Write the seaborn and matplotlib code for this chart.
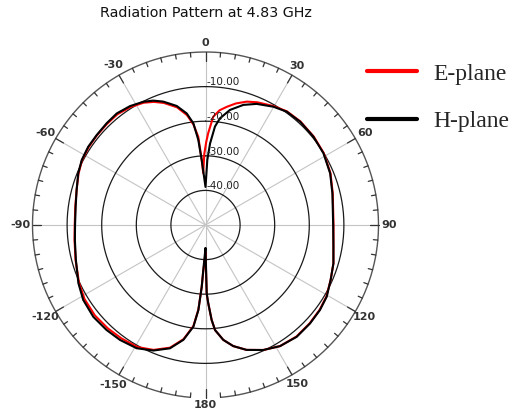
import numpy as np
import pandas as pd
import matplotlib
matplotlib.use("Agg")
import matplotlib.pyplot as plt
import seaborn as sns
from matplotlib.lines import Line2D

# ---------------- data ----------------
title = "Radiation Pattern at 4.83 GHz"
series_names = ["E-plane", "H-plane"]
series_colors = ["#ff0000", "#000000"]

e_angles = [-180, -177.2, -176.5, -175.2, -173.2, -169.1, -163.9, -157.4, -150.8, -143.4,
            -136.7, -129.3, -121.5, -114.6, -105.1, -96.6, -90, -82, -74.8, -67.9, -62.3,
            -56.3, -50.4, -44.2, -38.5, -32.4, -26.8, -22.8, -18.9, -13.6, -9.55, -6.8,
            -4.7, -3.3, -2.5, -1.0, 0.5, 1.7, 4.1, 7.0, 10.2, 14.0, 18.5, 22.9, 29.8, 35.6,
            42.5, 50.7, 58.7, 67.5, 76, 90, 99.6, 106.7, 113.7, 120.6, 126.6, 133.3, 140.8,
            148.4, 155.2, 161.8, 167.1, 171.2, 174.8, 176.3, 178, 179, 180]
e_gain = [-42.0, -36.5, -32.0, -25.5, -20.6, -16.4, -13.1, -10.9, -9.6, -9.2,
          -8.9, -8.7, -9.0, -9.8, -11.1, -11.9, -12.2, -12.0, -11.4, -10.4, -9.7,
          -9.4, -9.3, -9.2, -9.1, -9.6, -10.4, -11.4, -12.7, -15.0, -17.8, -20.8,
          -24.4, -31.2, -35.0, -29.5, -26.0, -23.4, -18.6, -16.6, -15.3, -13.8, -12.4,
          -11.5, -10.4, -9.6, -9.4, -9.6, -10.0, -10.9, -12.1, -13.0, -12.5, -11.4,
          -10.5, -9.4, -8.9, -8.6, -8.4, -8.9, -10.2, -12.0, -14.1, -16.4, -19.5,
          -22.5, -27.4, -30.0, -42.0]

h_angles = [-180, -177.2, -176.5, -175.2, -173.2, -169.1, -163.9, -157.4, -150.8, -143.4,
            -136.7, -129.3, -121.5, -114.6, -105.1, -96.6, -90, -82, -74.8, -67.9, -62.3,
            -56.3, -50.4, -44.2, -38.5, -32.4, -26.8, -22.8, -18.9, -13.6, -9.55, -6.8,
            -4.84, -3.35, 0, 1.6, 3.2, 5.5, 7.7, 12.0, 17.5, 22.9, 29.8, 35.6, 42.5, 50.7,
            58.7, 67.5, 76, 90, 99.6, 106.7, 113.7, 120.6, 126.6, 133.3, 140.8, 148.4,
            155.2, 161.8, 167.1, 171.2, 174.8, 176.3, 178, 179, 180]
h_gain = [-43.3, -37.0, -32.1, -25.3, -20.4, -16.2, -12.9, -10.7, -9.2, -8.6,
          -8.3, -8.1, -8.55, -9.6, -11.2, -12.0, -12.3, -12.1, -11.4, -10.3, -9.6,
          -9.25, -9.2, -9.0, -8.8, -9.3, -10.1, -11.0, -12.3, -14.6, -17.3, -20.4,
          -25.3, -31.2, -39.0, -31.2, -26.4, -21.4, -18.9, -16.0, -13.6, -12.0, -10.6,
          -9.7, -9.5, -9.7, -10.1, -11.0, -12.2, -13.1, -12.5, -11.4, -10.5, -9.3,
          -8.8, -8.5, -8.3, -8.9, -10.2, -12.0, -14.1, -16.4, -19.5, -22.5, -27.4,
          -30.3, -43.3]

ring_levels = [-40, -30, -20, -10]
ring_labels = ["-40.00", "-30.00", "-20.00", "-10.00"]
angle_ticks = [0, 30, 60, 90, 120, 150, 180, -150, -120, -90, -60, -30]
angle_labels = ["0", "30", "60", "90", "120", "150", "180", "-150", "-120", "-90", "-60", "-30"]
r_min, r_max = -50, 0

# ---------------- figure ----------------
sns.set_theme(style="white")
plt.rcParams['font.family'] = ['DejaVu Sans']

W, H = 518, 412
fig = plt.figure(figsize=(W / 100, H / 100), dpi=100)
cx, cy, R = 205.5, 225.0, 173.0
ax = fig.add_axes([(cx - R) / W, (H - cy - R) / H, 2 * R / W, 2 * R / H], projection="polar")
ax.set_theta_zero_location("N")
ax.set_theta_direction(-1)
ax.grid(False)
ax.spines["polar"].set_visible(False)
ax.set_facecolor("white")

# radial spokes
for a in range(0, 360, 30):
    t = np.deg2rad(a)
    ax.plot([t, t], [r_min, r_max], color="#c4c4c4", lw=0.8, zorder=0)

# rings
full = np.linspace(0, 2 * np.pi, 721)
for lvl in ring_levels:
    ax.plot(full, np.full_like(full, lvl), color="#1a1a1a", lw=0.9, zorder=1)

# outer circle with gap at 180
outer = np.deg2rad(np.linspace(-175, 175, 701))
ax.plot(outer, np.full_like(outer, r_max), color="#555555", lw=1.0, zorder=1, clip_on=False)
for a in range(0, 360, 5):
    t = np.deg2rad(a)
    ln = 2.6 if a % 30 == 0 else 1.3
    ax.plot([t, t], [r_max - ln, r_max], color="#333333", lw=0.9, zorder=1, clip_on=False)

# data curves
df = pd.concat([
    pd.DataFrame({"theta": np.deg2rad(e_angles), "gain": e_gain, "plane": series_names[0]}),
    pd.DataFrame({"theta": np.deg2rad(h_angles), "gain": h_gain, "plane": series_names[1]}),
], ignore_index=True)
sns.lineplot(data=df, x="theta", y="gain", hue="plane", hue_order=series_names,
             palette=dict(zip(series_names, series_colors)), sort=False, estimator=None,
             lw=1.5, legend=False, ax=ax, zorder=3)

ax.set_xlabel("")
ax.set_ylabel("")
ax.set_xticks([])
ax.set_yticks([])
ax.set_ylim(r_min, r_max)

# angle labels
for a, lab in zip(angle_ticks, angle_labels):
    if a == 180:
        rr = 1.9
    elif a == 0:
        rr = 2.6
    elif a < 0:
        rr = 3.4
    else:
        rr = 3.1
    ax.text(np.deg2rad(a), rr, lab, ha="center", va="center", fontsize=8,
            fontweight="bold", color="#333333", clip_on=False)

# ring labels
for lvl, lab in zip(ring_levels, ring_labels):
    ax.annotate(lab, xy=(0, lvl), xytext=(0.5, 3), textcoords="offset points",
                ha="left", va="center", fontsize=7.5, color="#222222", zorder=4)

fig.text(cx / W, 1 - 13 / H, title, ha="center", va="center", fontsize=10.3, color="#111111")

handles = [Line2D([], [], color=c, lw=3) for c in series_colors]
fig.legend(handles, series_names, loc="upper left", bbox_to_anchor=(367 / W, 1 - 63 / H),
           frameon=False, prop={"family": "Liberation Serif", "size": 17},
           handlelength=2.1, handletextpad=0.7, labelspacing=1.1,
           borderpad=0, borderaxespad=0)

fig.savefig("out.png", dpi=100)
